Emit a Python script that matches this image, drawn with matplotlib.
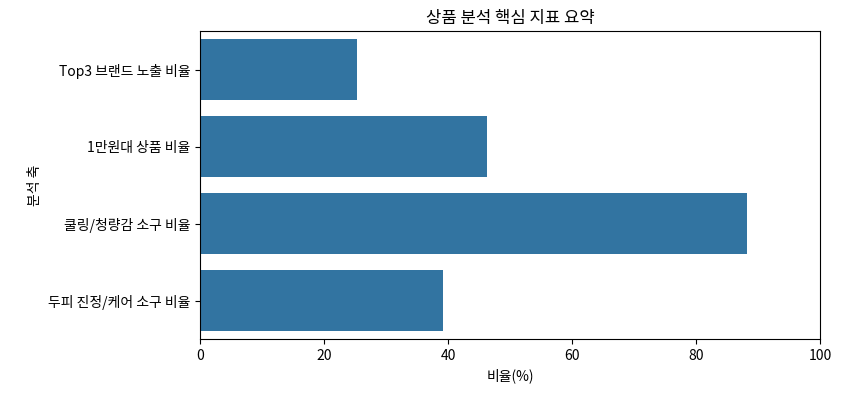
import matplotlib
matplotlib.use("Agg")
import matplotlib.pyplot as plt

# === DATOS ===
categorias = ["Top3 브랜드 노출 비율", "1만원대 상품 비율", "쿨링/청량감 소구 비율", "두피 진정/케어 소구 비율"]
valores = [25.3, 46.3, 88.2, 39.2]

plt.rcParams['font.family'] = ['Noto Sans CJK KR', 'DejaVu Sans']

fig, ax = plt.subplots(figsize=(8.42, 3.93), dpi=100)
fig.subplots_adjust(left=0.2375, right=0.974, top=0.921, bottom=0.137)

pos = list(range(len(categorias)))
ax.barh(pos, valores, height=0.8, color="#3274a1")

ax.set_yticks(pos)
ax.set_yticklabels(categorias)
ax.set_ylim(3.5, -0.5)
ax.set_xlim(0, 100)

ax.set_xlabel("비율(%)")
ax.set_ylabel("분석 축")
ax.set_title("상품 분석 핵심 지표 요약")

fig.savefig("out.png", dpi=100)
